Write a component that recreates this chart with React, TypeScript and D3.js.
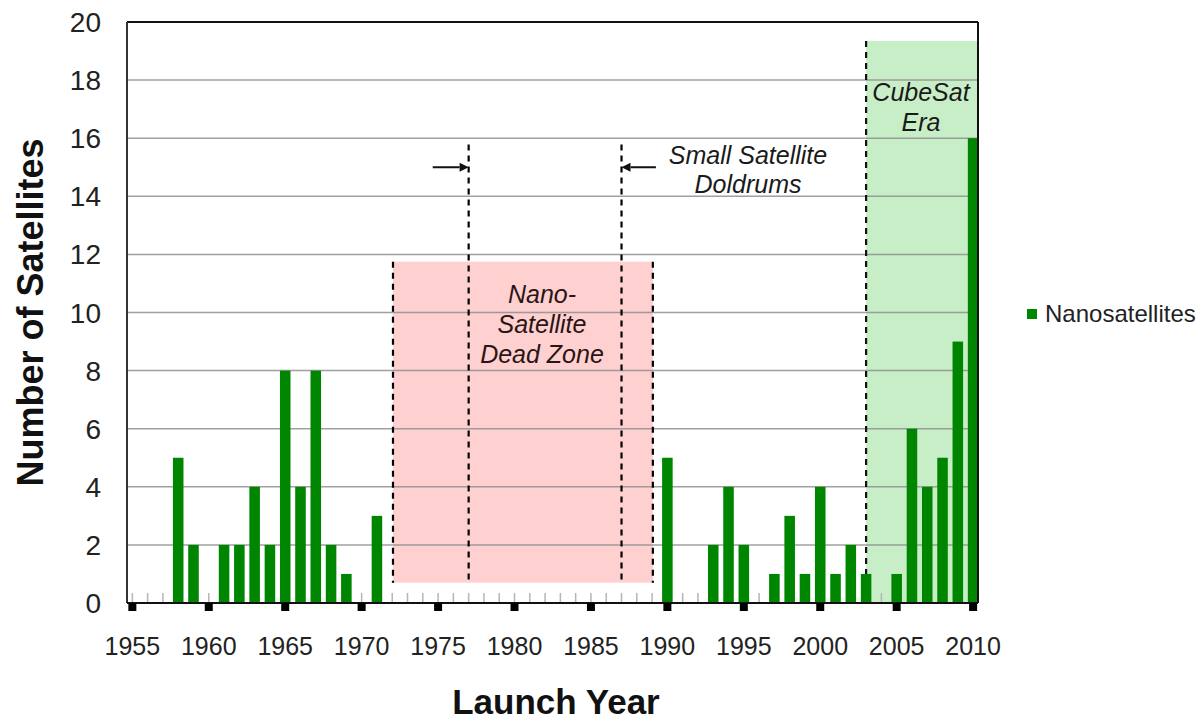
import React from "react";
import * as d3 from "d3";

// ---- data ----
const years = [1958, 1959, 1961, 1962, 1963, 1964, 1965, 1966, 1967, 1968, 1969, 1971, 1990, 1993, 1994, 1995, 1997, 1998, 1999, 2000, 2001, 2002, 2003, 2005, 2006, 2007, 2008, 2009, 2010];
const counts = [5, 2, 2, 2, 4, 2, 8, 4, 8, 2, 1, 3, 5, 2, 4, 2, 1, 3, 1, 4, 1, 2, 1, 1, 6, 4, 5, 9, 16];
const majorTickYears = [1955, 1960, 1965, 1970, 1975, 1980, 1985, 1990, 1995, 2000, 2005, 2010];
const yTickValues = [0, 2, 4, 6, 8, 10, 12, 14, 16, 18, 20];
const seriesName = "Nanosatellites";
const xTitle = "Launch Year";
const yTitle = "Number of Satellites";
const deadZoneText = ["Nano-", "Satellite", "Dead Zone"];
const doldrumsText = ["Small Satellite", "Doldrums"];
const cubesatText = ["CubeSat", "Era"];

// annotation extents in data units
const deadZoneYears = [1972.05, 1989.05];
const deadZoneValues = [0.7, 11.75];
const doldrumsYears = [1977, 1987];
const doldrumsTop = 15.78;
const cubesatStart = 2003;
const cubesatTop = 19.35;

const W = 1202;
const H = 720;
const FONT = "'Liberation Sans', Arial, Helvetica, sans-serif";

export default function App() {
  const left = 127, right = 978, top = 22, bottom = 603;
  const x = d3.scaleLinear().domain([1954.65, 2010.32]).range([left, right]);
  const y = d3.scaleLinear().domain([0, 20]).range([bottom, top]);
  const pxPerYear = x(1) - x(0);
  const barW = pxPerYear * 0.69;
  const allYears = d3.range(1955, 2011);

  const arrowY = y(15);
  const arrow = (from: number, to: number) => {
    const x0 = x(from), x1 = x(to);
    const dir = Math.sign(x1 - x0);
    const head = 9;
    return (
      <g>
        <line x1={x0} y1={arrowY} x2={x1 - dir * head} y2={arrowY} stroke="#111" strokeWidth={2} />
        <path d={`M${x1},${arrowY} L${x1 - dir * head},${arrowY - 4.5} L${x1 - dir * head},${arrowY + 4.5} Z`} fill="#111" />
      </g>
    );
  };

  return (
    <div style={{ position: "absolute", left: 0, top: 0 }}>
      <svg width={W} height={H} style={{ display: "block", background: "#fff" }}>
        {/* shaded regions */}
        <rect x={x(deadZoneYears[0])} y={y(deadZoneValues[1])} width={x(deadZoneYears[1]) - x(deadZoneYears[0])} height={y(deadZoneValues[0]) - y(deadZoneValues[1])} fill="#ffd0d0" />
        <rect x={x(cubesatStart)} y={y(cubesatTop)} width={right - x(cubesatStart)} height={bottom - y(cubesatTop)} fill="#c8eec8" />

        {/* gridlines */}
        {yTickValues.filter((v) => v > 0 && v < 20).map((v) => (
          <line key={v} x1={left} x2={right} y1={y(v)} y2={y(v)} stroke="#8f8f8f" strokeOpacity={0.85} strokeWidth={1.5} />
        ))}

        {/* minor ticks */}
        {allYears.map((yr) => (
          <line key={yr} x1={x(yr)} x2={x(yr)} y1={bottom - 10} y2={bottom} stroke="#b5b5b5" strokeWidth={1.5} />
        ))}

        {/* dashed lines */}
        {deadZoneYears.map((yr) => (
          <line key={"dz" + yr} x1={x(yr)} x2={x(yr)} y1={y(deadZoneValues[1])} y2={y(deadZoneValues[0])} stroke="#000" strokeWidth={2.2} strokeDasharray="6,5" />
        ))}
        {doldrumsYears.map((yr) => (
          <line key={"dd" + yr} x1={x(yr)} x2={x(yr)} y1={y(doldrumsTop)} y2={y(deadZoneValues[0])} stroke="#000" strokeWidth={2.2} strokeDasharray="6,5" />
        ))}
        <line x1={x(cubesatStart)} x2={x(cubesatStart)} y1={y(cubesatTop)} y2={bottom} stroke="#111" strokeWidth={2.2} strokeDasharray="6,5" />

        {/* arrows */}
        {arrow(1974.65, doldrumsYears[0])}
        {arrow(1989.25, doldrumsYears[1])}

        {/* bars */}
        {years.map((yr, i) => (
          <rect key={yr} x={x(yr) - barW / 2} y={y(counts[i])} width={barW} height={bottom - y(counts[i])} fill="#008500" />
        ))}

        {/* frame */}
        <line x1={left} x2={right} y1={top} y2={top} stroke="#111" strokeWidth={2} />
        <line x1={left} x2={left} y1={top} y2={bottom} stroke="#333" strokeWidth={2} />
        <line x1={right} x2={right} y1={top} y2={bottom} stroke="#111" strokeWidth={2} />
        <line x1={left} x2={right} y1={bottom} y2={bottom} stroke="#111" strokeWidth={2} />

        {/* major ticks */}
        {majorTickYears.map((yr) => (
          <rect key={yr} x={x(yr) - 4} y={bottom} width={8} height={8} fill="#000" />
        ))}

        {/* x tick labels */}
        {majorTickYears.map((yr) => (
          <text key={yr} x={x(yr)} y={655} textAnchor="middle" fontFamily={FONT} fontSize={25} fill="#222">{yr}</text>
        ))}

        {/* y tick labels */}
        {yTickValues.map((v) => (
          <text key={v} x={101} y={y(v)} dy="0.36em" textAnchor="end" fontFamily={FONT} fontSize={28} fill="#222">{v}</text>
        ))}

        {/* axis titles */}
        <text x={556} y={714} textAnchor="middle" fontFamily={FONT} fontSize={35} fontWeight="bold" fill="#111">{xTitle}</text>
        <text transform={`translate(43,${(top + bottom) / 2}) rotate(-90)`} textAnchor="middle" fontFamily={FONT} fontSize={36} fontWeight="bold" fill="#111">{yTitle}</text>

        {/* annotations */}
        {deadZoneText.map((t, i) => (
          <text key={t} x={542} y={303 + i * 30} textAnchor="middle" fontFamily={FONT} fontSize={25} fontStyle="italic" fill="#2a1515">{t}</text>
        ))}
        {doldrumsText.map((t, i) => (
          <text key={t} x={748} y={164 + i * 29} textAnchor="middle" fontFamily={FONT} fontSize={25} fontStyle="italic" fill="#1a1a1a">{t}</text>
        ))}
        {cubesatText.map((t, i) => (
          <text key={t} x={921} y={101 + i * 30} textAnchor="middle" fontFamily={FONT} fontSize={25} fontStyle="italic" fill="#1a1a1a">{t}</text>
        ))}

        {/* legend */}
        <rect x={1027} y={309} width={10} height={10} fill="#008500" />
        <text x={1045} y={322} fontFamily={FONT} fontSize={24} fill="#222">{seriesName}</text>
      </svg>
    </div>
  );
}
